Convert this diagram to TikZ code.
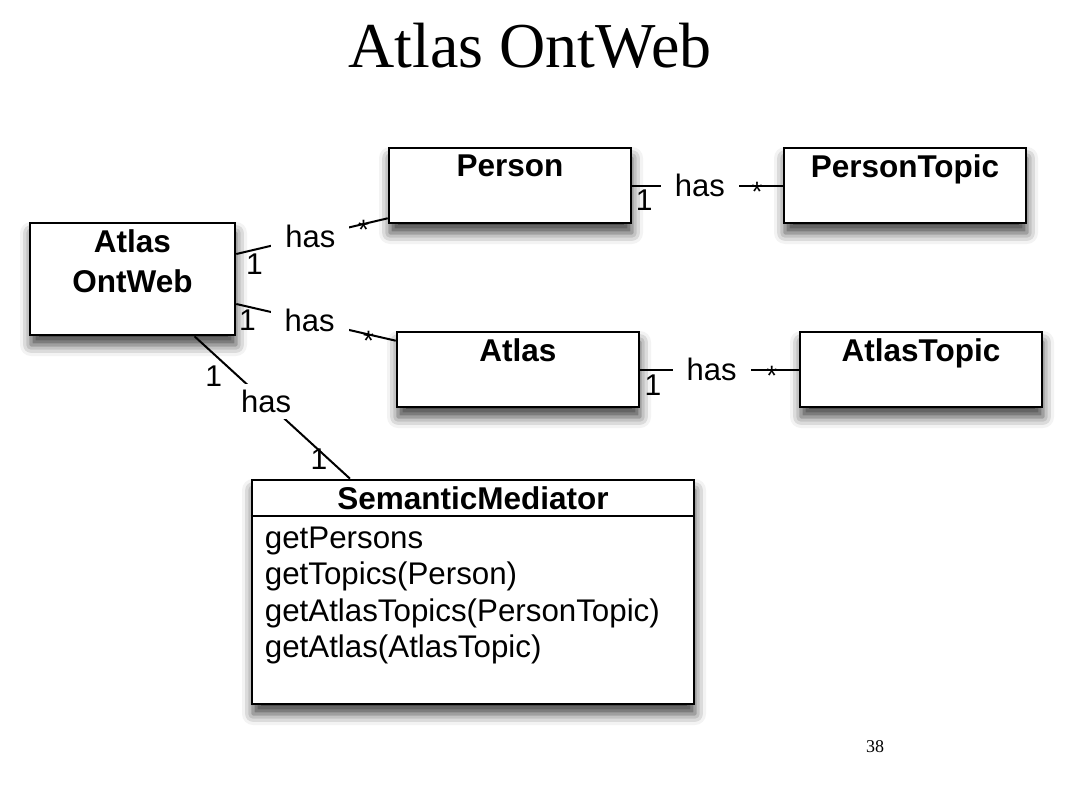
\documentclass[tikz,border=0pt]{standalone}
\usepackage{fontspec}
\setmainfont{Liberation Serif}
\setsansfont{Liberation Sans}
\usepackage{tikz}
\usetikzlibrary{positioning,shadows.blur}

\begin{document}
\begin{tikzpicture}[%
    x=1pt,
    y=-1pt,
    node distance=2cm,
    class/.style={draw, line width=2.6pt, fill=white, minimum width=242pt, minimum height=75pt, inner sep=0pt,
      blur shadow={shadow xshift=1pt, shadow yshift=-10pt, shadow blur radius=11pt, shadow opacity=75}},
    classname/.style={anchor=north, inner sep=8pt, align=center, font=\sffamily\bfseries\fontsize{31.5}{40}\selectfont},
    assoc/.style={line width=2pt},
    hasname/.style={fill=white, inner xsep=14pt, inner ysep=6pt, font=\sffamily\fontsize{31}{36}\selectfont},
    multone/.style={inner sep=0pt, font=\sffamily\fontsize{30}{36}\selectfont},
    multmany/.style={inner sep=0pt, yshift=-6pt, font=\sffamily\fontsize{28}{34}\selectfont}
  ]
  \useasboundingbox (0,0) rectangle (1066,800);

  \node[anchor=base, font=\fontsize{64}{70}\selectfont] (title) at (530,68) {Atlas OntWeb};
  \node[anchor=base, font=\fontsize{18}{20}\selectfont] (pagenum) at (875,752) {38};

  \node[class, minimum width=205pt, minimum height=112pt] (aow) at (132.5,279) {};
  \node[class] (person) at (510,185.5) {};
  \node[class] (atlas) at (518,369.5) {};
  \node[class, on grid, right=395pt of person] (ptopic) {};
  \node[class, on grid, right=403pt of atlas] (atopic) {};
  \node[class, minimum width=442pt, minimum height=224pt] (sm) at (473,592) {};

  \node[classname] (aowname) at (aow.north) {Atlas\\OntWeb};
  \node[classname] (personname) at (person.north) {Person};
  \node[classname] (atlasname) at (atlas.north) {Atlas};
  \node[classname] (ptopicname) at (ptopic.north) {PersonTopic};
  \node[classname] (atopicname) at (atopic.north) {AtlasTopic};
  \node[classname] (smname) at (sm.north) {SemanticMediator};
  \draw[line width=2.2pt] ([yshift=-37pt]sm.north west) -- ([yshift=-37pt]sm.north east);
  \node[anchor=north west, inner sep=0pt, align=left, font=\sffamily\fontsize{31.3}{36.5}\selectfont] (smops)
    at ([xshift=14pt,yshift=-48pt]sm.north west)
    {getPersons\\getTopics(Person)\\getAtlasTopics(PersonTopic)\\getAtlas(AtlasTopic)};

  \draw[assoc] ([yshift=25pt]aow.east) -- node[hasname, pos=0.49] {has}
    node[multone, pos=0.12, below=3pt] {1} node[multmany, pos=0.84] {*} ([yshift=6pt]person.south west);
  \draw[assoc] ([yshift=-25pt]aow.east) -- node[hasname, pos=0.46] {has}
    node[multone, pos=0.07, below=2pt] {1} node[multmany, pos=0.83] {*} ([yshift=-10pt]atlas.north west);
  \draw[assoc] ([xshift=62pt]aow.south) -- node[hasname, pos=0.46] {has}
    node[multone, pos=0.28, left=15pt] {1} node[multone, pos=0.86, left=0pt] {1} ([xshift=-123pt]sm.north);
  \draw[assoc] (person.east) -- node[hasname, pos=0.45] {has}
    node[multone, pos=0.08, below=3pt] {1} node[multmany, pos=0.83] {*} (ptopic.west);
  \draw[assoc] (atlas.east) -- node[hasname, pos=0.45] {has}
    node[multone, pos=0.08, below=4pt] {1} node[multmany, pos=0.83] {*} (atopic.west);

\end{tikzpicture}
\end{document}
